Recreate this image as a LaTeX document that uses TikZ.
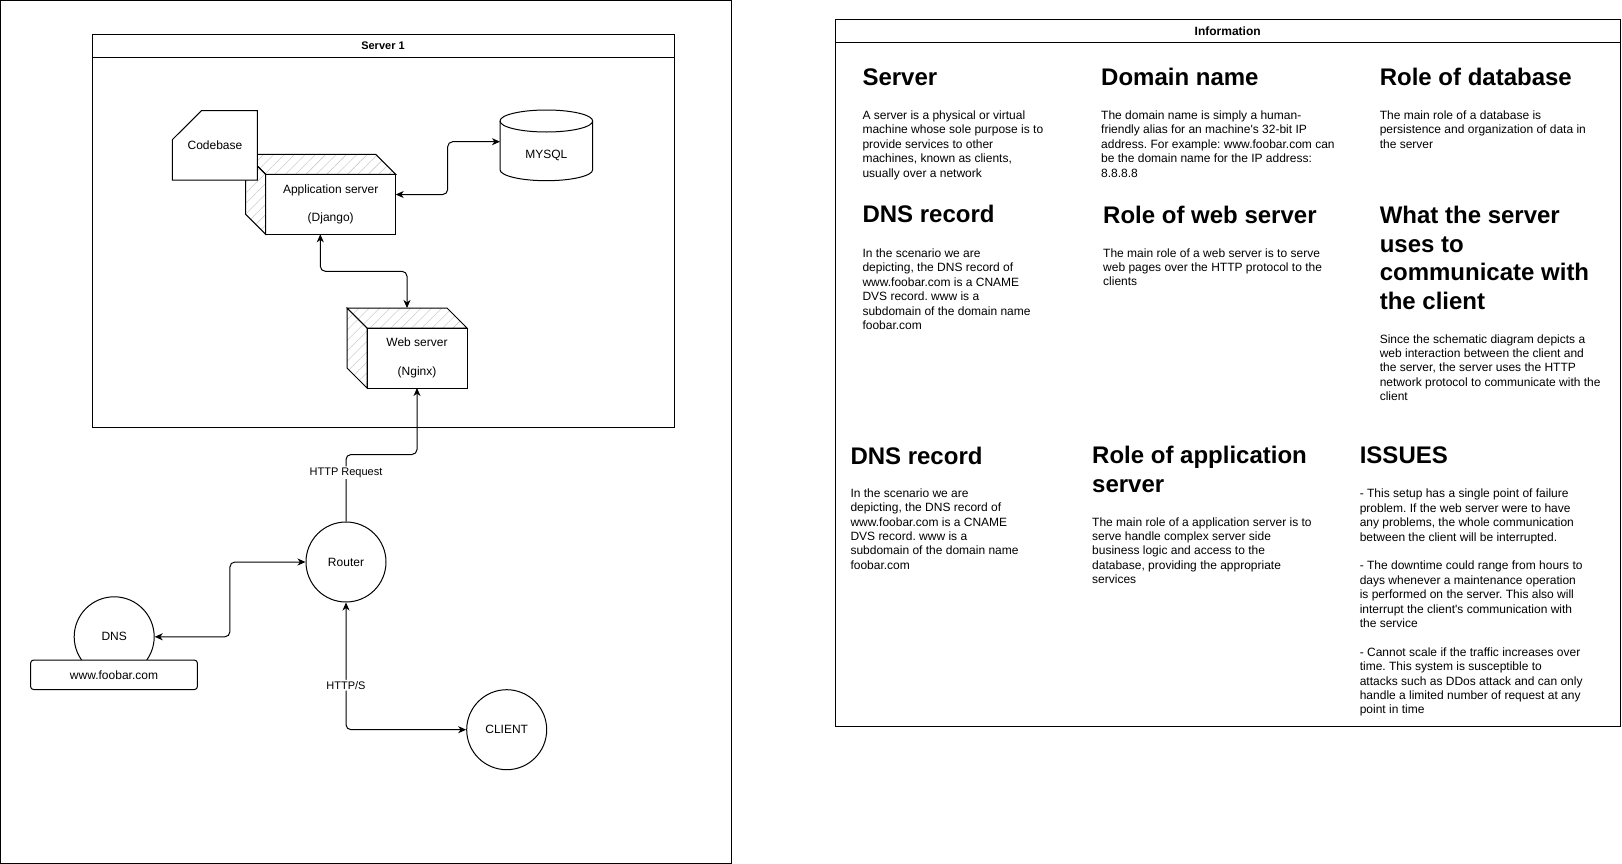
\documentclass[tikz,border=0pt]{standalone}
\usepackage{fontspec}
\setmainfont{Liberation Sans}[Ligatures=TeXOff]
\usetikzlibrary{arrows.meta, patterns.meta}
\frenchspacing

\begin{document}
\begin{tikzpicture}[x=0.75pt, y=-0.75pt, line width=0.75pt,
    >={Stealth[length=6pt,width=5.25pt,inset=1.8pt]},
    txt/.style={font=\fontsize{9}{10.8}\selectfont, inner sep=0pt, align=center},
    cube/.style={txt, draw, fill=white, outer sep=0pt},
    lbl/.style={font=\fontsize{8.25}{9.9}\selectfont, fill=white, inner sep=1pt},
    title/.style={font=\bfseries\fontsize{8.25}{9.9}\selectfont, inner sep=0pt},
    heading/.style={font=\bfseries\fontsize{18}{21.4}\selectfont, anchor=north west, align=left, inner sep=0pt},
    body/.style={font=\fontsize{9}{10.8}\selectfont, anchor=north west, align=left, inner sep=0pt},
    hatch/.style={draw, pattern={Lines[angle=45,distance=5.5pt,line width=0.3pt]}, pattern color=black!25},
    link/.style={rounded corners=3.75pt}]

    % page
    \fill[white] (0,0) rectangle (1622,864);
    \useasboundingbox (0,0) rectangle (1622,864);
    \draw (0.5,0.5) rectangle (731,863.5);

    % Server 1 container
    \draw (92,34.5) rectangle (674,427.5);
    \draw (92,57) -- (674,57);
    \node[title] (srvtitle) at (383,45.7) {Server 1};

    % application server (cube)
    \node[cube, minimum width=97.5pt, minimum height=45pt] (appsrv) at (330.7,204.3) {Application server\\[10.8pt](Django)};
    \draw[hatch] ([xshift=-15pt,yshift=15pt]appsrv.north west) -- ([xshift=-15pt,yshift=15pt]appsrv.north east)
        -- (appsrv.north east) -- (appsrv.north west) -- cycle;
    \draw[hatch] ([xshift=-15pt,yshift=15pt]appsrv.north west) -- (appsrv.north west)
        -- (appsrv.south west) -- ([xshift=-15pt,yshift=15pt]appsrv.south west) -- cycle;

    % codebase card
    \draw[fill=white] (201.5,110.7) -- (257.3,110.7) -- (257.3,180) -- (172.3,180) -- (172.3,139.7) -- cycle;
    \node[txt] (codebase) at (215,145) {Codebase};

    % database cylinder
    \draw[fill=white] (500,121) -- (500,169.7) arc[start angle=180, end angle=0, x radius=46.35, y radius=11]
        -- (592.7,121) arc[start angle=0, end angle=-180, x radius=46.35, y radius=11] -- cycle;
    \draw (500,121) arc[start angle=180, end angle=0, x radius=46.35, y radius=11];
    \node[txt] (mysql) at (546.3,155) {MYSQL};
    \coordinate (dbin) at (500,141.7);

    % web server (cube)
    \node[cube, minimum width=75pt, minimum height=45pt] (websrv) at (417,358) {Web server\\[10.8pt](Nginx)};
    \draw[hatch] ([xshift=-15pt,yshift=15pt]websrv.north west) -- ([xshift=-15pt,yshift=15pt]websrv.north east)
        -- (websrv.north east) -- (websrv.north west) -- cycle;
    \draw[hatch] ([xshift=-15pt,yshift=15pt]websrv.north west) -- (websrv.north west)
        -- (websrv.south west) -- ([xshift=-15pt,yshift=15pt]websrv.south west) -- cycle;

    % outside nodes
    \node[txt, draw, circle, minimum size=60pt] (dns) at (114.2,636.8) {DNS};
    \node[txt, draw, fill=white, rounded corners=2.25pt, minimum width=125.1pt, minimum height=22.1pt] (www) at (114,674.8) {www.foobar.com};
    \node[txt, draw, circle, minimum size=60pt] (router) at (346,562) {Router};
    \node[txt, draw, circle, minimum size=60pt] (client) at (506.7,729.7) {CLIENT};

    % connectors
    \draw[link, <->] ([yshift=7.35pt]appsrv.east) -- ++(52,0) |- (dbin);
    \draw[link, <->] ([xshift=-7.8pt]appsrv.south) -- ++(0,37) -| ([xshift=-7.5pt,yshift=15pt]websrv.north);
    \draw[link, ->] (router.north) -- node[lbl, pos=0.73] (httpreq) {HTTP Request} ++(0,-67) -| (websrv.south);
    \draw[link, <->] (router.west) -- ++(-75.6,0) |- (dns.east);
    \draw[link, <->] (router.south) |- node[lbl, pos=0.325] (https) {HTTP/S} (client.west);

    % Information panel
    \draw (835.5,19.5) rectangle (1620,726);
    \draw (835.5,42) -- (1620,42);
    \node[title, font=\bfseries\fontsize{9}{10.8}\selectfont] (infotitle) at (1227.7,31.3) {Information};

    % row 1
    \node[heading] (hserver) at (862,65) {\strut Server};
    \node[body] (tserver) at (862,108.9) {\strut A server is a physical or virtual\\machine whose sole purpose is to\\provide services to other\\machines, known as clients,\\usually over a network};
    \node[heading] (hdomain) at (1100.7,65) {\strut Domain name};
    \node[body] (tdomain) at (1100.7,108.9) {\strut The domain name is simply a human-\\friendly alias for an machine's 32-bit IP\\address. For example: www.foobar.com can\\be the domain name for the IP address:\\8.8.8.8};
    \node[heading] (hdb) at (1379.3,65) {\strut Role of database};
    \node[body] (tdb) at (1379.3,108.9) {\strut The main role of a database is\\persistence and organization of data in\\the server};

    % row 2
    \node[heading] (hdns) at (862,202.5) {\strut DNS record};
    \node[body] (tdns) at (862,247) {\strut In the scenario we are\\depicting, the DNS record of\\www.foobar.com is a CNAME\\DVS record. www is a\\subdomain of the domain name\\foobar.com};
    \node[heading] (hweb) at (1102.7,203.3) {\strut Role of web server};
    \node[body] (tweb) at (1102.7,246.6) {\strut The main role of a web server is to serve\\web pages over the HTTP protocol to the\\clients};
    \node[heading] (hproto) at (1379.3,203.3) {\strut What the server\\uses to\\communicate with\\the client};
    \node[body] (tproto) at (1379.3,332.6) {\strut Since the schematic diagram depicts a\\web interaction between the client and\\the server, the server uses the HTTP\\network protocol to communicate with the\\client};

    % row 3
    \node[heading] (hdnsb) at (850,444) {\strut DNS record};
    \node[body] (tdnsb) at (850,486.8) {\strut In the scenario we are\\depicting, the DNS record of\\www.foobar.com is a CNAME\\DVS record. www is a\\subdomain of the domain name\\foobar.com};
    \node[heading] (happ) at (1091.7,443.3) {\strut Role of application\\server};
    \node[body] (tapp) at (1091.7,515.6) {\strut The main role of a application server is to\\serve handle complex server side\\business logic and access to the\\database, providing the appropriate\\services};
    \node[heading] (hissues) at (1359.3,443.3) {\strut ISSUES};
    \node[body] (tissues) at (1359.3,487.4) {\strut - This setup has a single point of failure\\problem. If the web server were to have\\any problems, the whole communication\\between the client will be interrupted.\\[10.8pt]- The downtime could range from hours to\\days whenever a maintenance operation\\is performed on the server. This also will\\interrupt the client's communication with\\the service\\[10.8pt]- Cannot scale if the traffic increases over\\time. This system is susceptible to\\attacks such as DDos attack and can only\\handle a limited number of request at any\\point in time};
\end{tikzpicture}
\end{document}
